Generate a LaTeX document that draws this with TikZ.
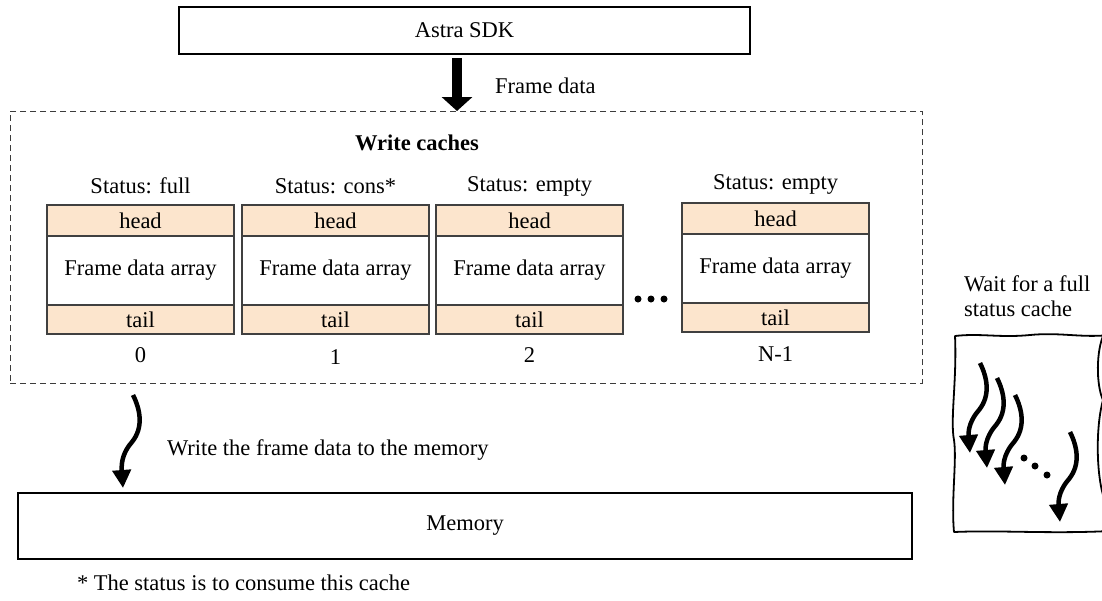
\documentclass[tikz,border=0pt]{standalone}
\usepackage{fontspec}
\setmainfont{Liberation Serif}
\usetikzlibrary{arrows.meta,calc}
\definecolor{peach}{RGB}{252,229,205}
\definecolor{cellline}{RGB}{64,64,64}
\definecolor{dashline}{RGB}{60,60,60}
\tikzset{
  txt/.style={font=\fontsize{22.5}{25}\selectfont, inner sep=0pt, outer sep=0pt},
  solidbox/.style={draw=black, line width=2pt, inner sep=0pt, outer sep=0pt, font=\fontsize{22.5}{25}\selectfont},
  cell/.style={draw=cellline, line width=1.2pt, minimum width=187pt, inner sep=0pt, outer sep=0pt, font=\fontsize{22.5}{25}\selectfont},
  endcell/.style={cell, fill=peach},
  groupbox/.style={draw=dashline, line width=1pt, dash pattern=on 6pt off 4pt, inner sep=0pt, outer sep=0pt},
  blockarrow/.style={line width=10pt, -{Triangle[length=14pt,width=30pt]}},
  wavyline/.style={line width=4.5pt, -{Triangle[length=18pt,width=18pt]}},
  sketchline/.style={line width=1.8pt, line join=round},
  waitarrow/.pic={\draw[wavyline] (0,0) .. controls (7,14) and (11,32) .. (-1,47) .. controls (-9,56) and (-12,66) .. (-10,90);}
}
\begin{document}
\begin{tikzpicture}[x=1pt,y=-1pt]
\useasboundingbox (0,0) rectangle (1102,600);

% source of the frames
\node[solidbox, minimum width=571pt, minimum height=47pt, anchor=north west] (astra) at (179,7) {Astra SDK};

% group of write caches
\node[groupbox, minimum width=912pt, minimum height=272pt, anchor=north west] (wc) at (10,111) {};
\coordinate (fdx) at (457,0);
\draw[blockarrow] ([yshift=-4pt]astra.south -| fdx) -- (wc.north -| fdx);
\node[txt, anchor=west] (fdlabel) at (495,86) {Frame data};
\node[txt, font=\fontsize{22.5}{25}\selectfont\bfseries] (wctitle) at (417,143) {Write caches};

% one cache: head, frame data array, tail
\foreach \i/\x/\t/\st/\num/\nd in {0/47/205/full/0/21, 1/242/205/cons*/1/23, 2/436/205/empty/2/21, 3/682/203/empty/N-1/22}{
  \node[endcell, minimum height=31pt, anchor=north west] (h\i) at (\x,\t) {head};
  \node[cell, minimum height=69pt, anchor=north] (b\i) at (h\i.south) {Frame data array};
  \node[endcell, minimum height=29pt, anchor=north] (t\i) at (b\i.south) {tail};
  \node[txt] (s\i) at ([yshift=19pt]h\i.north) {Status: \st};
  \node[txt] (n\i) at ([yshift=-\nd pt]t\i.south) {\num};
}
\foreach \dx in {638,651,664} \fill (\dx,299) circle (3.5pt);

% writing to memory
\coordinate (wstart) at (133,395);
\coordinate (wend) at (123,488);
\draw[wavyline] (wstart) .. controls +(7,14) and +(12,-15) .. ($(wstart)+(-1,47)$) .. controls +(-8,9) and +(-2,-27) .. (wend);
\node[txt, anchor=west] (wlabel) at (167,450) {Write the frame data to the memory};
\node[solidbox, minimum width=894pt, minimum height=66pt, anchor=north west] (memory) at (18,493) {Memory};
\node[txt, anchor=base west] (note) at (77,590) {* The status is to consume this cache};

% waiting threads
\node[txt, anchor=north west, align=left] (wait) at (964,276) {Wait for a full\\status cache};
\draw[sketchline] (1110,335) .. controls (1080,338) and (1060,332) .. (1030,335) .. controls (1000,338) and (980,333) .. (955,336) .. controls (957,380) and (950,420) .. (954,440) .. controls (957,460) and (951,500) .. (954,532) .. controls (1000,530) and (1050,534) .. (1110,531);
\draw[sketchline] (1104,334) .. controls (1096,350) and (1096,385) .. (1103,400) .. controls (1096,425) and (1096,470) .. (1103,495) -- (1104,532);
\pic at (980,363) {waitarrow};
\pic at (997,378) {waitarrow};
\pic at (1015,395) {waitarrow};
\pic at (1070,432) {waitarrow};
\foreach \px/\py in {1024/458,1035/466,1047/475} \fill (\px,\py) circle (3.5pt);
\end{tikzpicture}
\end{document}
